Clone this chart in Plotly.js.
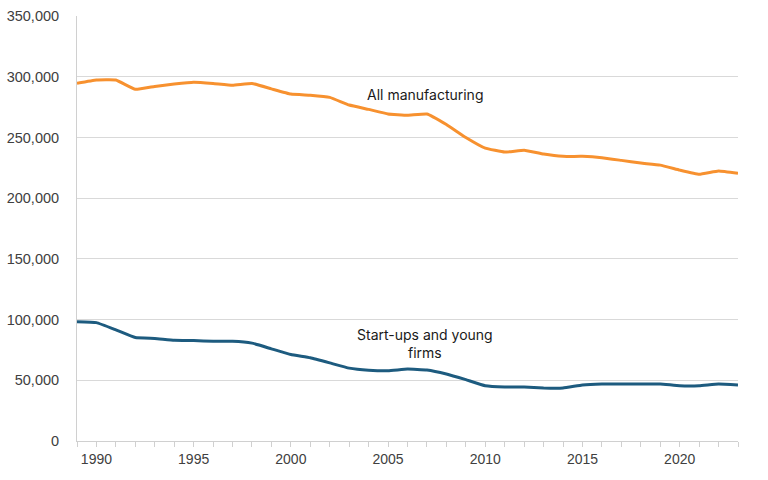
<!DOCTYPE html>
<html>
<head>
<meta charset="utf-8">
<script src="https://cdn.plot.ly/plotly-3.0.1.min.js"></script>
<style>
  html, body { margin: 0; padding: 0; background: #ffffff; }
  #chart { width: 768px; height: 480px; }
</style>
</head>
<body>
<div id="chart"></div>
<script>
// Manufacturing employment, 1989–2023
const years = [1989, 1990, 1991, 1992, 1993, 1994, 1995, 1996, 1997, 1998, 1999,
  2000, 2001, 2002, 2003, 2004, 2005, 2006, 2007, 2008, 2009,
  2010, 2011, 2012, 2013, 2014, 2015, 2016, 2017, 2018, 2019,
  2020, 2021, 2022, 2023];

const allManufacturing = [294600, 297300, 297300, 289600, 292000, 294000, 295500, 294500, 293000, 294500, 290000,
  285700, 284700, 283000, 276700, 273100, 269300, 268200, 269300, 260600, 250000,
  241200, 237900, 239500, 236300, 234400, 234400, 233300, 231100, 228900, 227200,
  223100, 219600, 222300, 220400];

const startUpsYoung = [98300, 97500, 91500, 85200, 84400, 83000, 82700, 82200, 82200, 80600, 75900,
  71200, 68500, 64300, 60000, 58300, 57800, 59200, 58500, 55200, 50500,
  45500, 44500, 44500, 43700, 43700, 46200, 47000, 47000, 47000, 47000,
  45500, 45500, 47000, 46200];

const seriesNames = ['All manufacturing', 'Start-ups and young firms'];
const labelText = ['All manufacturing', 'Start-ups and young<br>firms'];
const yTickVals = [0, 50000, 100000, 150000, 200000, 250000, 300000, 350000];

const traces = [
  {
    x: years, y: allManufacturing, name: seriesNames[0],
    type: 'scatter', mode: 'lines',
    line: { color: '#F7912F', width: 3, shape: 'spline', smoothing: 0.3 },
    hoverinfo: 'x+y'
  },
  {
    x: years, y: startUpsYoung, name: seriesNames[1],
    type: 'scatter', mode: 'lines',
    line: { color: '#1D5B7F', width: 3, shape: 'spline', smoothing: 0.3 },
    hoverinfo: 'x+y'
  }
];

const labelFont = { family: 'Inter, "Noto Sans", sans-serif', size: 14, color: '#1a1a1a' };

const layout = {
  width: 768, height: 480,
  paper_bgcolor: '#ffffff', plot_bgcolor: '#ffffff',
  margin: { l: 77, r: 30, t: 16, b: 39 },
  showlegend: false,
  font: { family: '"Liberation Sans", Arial, sans-serif', size: 14, color: '#404040' },
  xaxis: {
    range: [1989, 2023],
    tick0: 1990, dtick: 5,
    showgrid: false, zeroline: false,
    showline: true, linecolor: '#d0d0d0', linewidth: 1,
    ticks: 'outside', ticklen: 5, tickcolor: '#d0d0d0',
    minor: { dtick: 1, tick0: 1989, ticks: 'outside', ticklen: 5, tickcolor: '#d0d0d0', showgrid: false },
    tickfont: { size: 14, color: '#404040' }
  },
  yaxis: {
    range: [0, 350000],
    tickvals: yTickVals,
    tickformat: ',d',
    showgrid: true, gridcolor: '#d9d9d9', gridwidth: 1,
    zeroline: false,
    showline: true, linecolor: '#d0d0d0', linewidth: 1,
    ticks: '', ticklabelstandoff: 14,
    tickfont: { size: 14.5, color: '#404040' }
  },
  annotations: [
    {
      x: 2006.9, y: 285000, xref: 'x', yref: 'y',
      text: labelText[0], showarrow: false,
      font: labelFont, xanchor: 'center', yanchor: 'middle'
    },
    {
      x: 2006.9, y: 80000, xref: 'x', yref: 'y',
      text: labelText[1], showarrow: false,
      font: labelFont, xanchor: 'center', yanchor: 'middle', align: 'center'
    }
  ]
};

Plotly.newPlot('chart', traces, layout, { displayModeBar: false, staticPlot: true });
</script>
</body>
</html>
